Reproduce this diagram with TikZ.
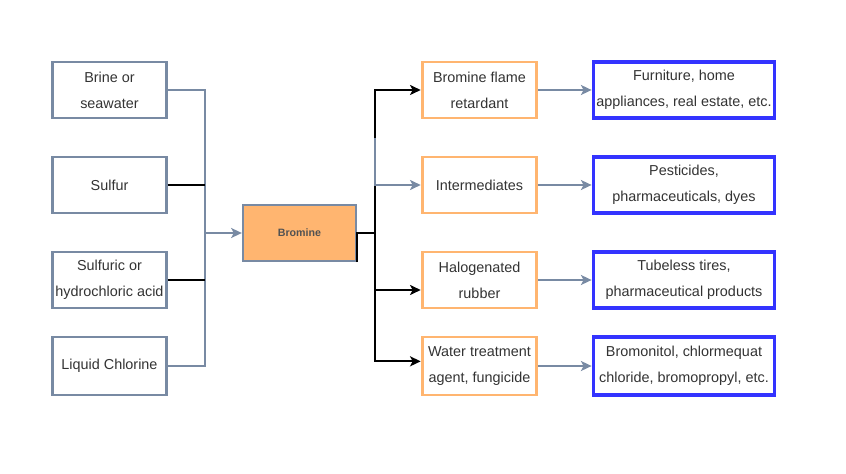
\documentclass[tikz,border=0pt]{standalone}
\usepackage{fontspec}
\setmainfont{Liberation Sans}
\usetikzlibrary{positioning,arrows.meta,calc}

\definecolor{slate}{HTML}{788AA3}
\definecolor{peach}{HTML}{FFB570}
\definecolor{royal}{HTML}{3333FF}
\definecolor{ink}{HTML}{333333}

\begin{document}
\begin{tikzpicture}[
    x=0.75pt, y=-0.75pt,
    font=\fontsize{10.8}{19.5}\selectfont, text=ink,
    src/.style={rectangle, draw=slate, line width=2.2pt, minimum width=85pt, minimum height=42pt, align=center, fill=white, inner sep=1pt},
    use/.style={rectangle, draw=peach, line width=2.2pt, minimum width=86pt, minimum height=42pt, align=center, fill=white, inner sep=1pt},
    app/.style={rectangle, draw=royal, line width=2.6pt, minimum width=136pt, minimum height=42pt, align=center, fill=white, inner sep=1pt},
    gline/.style={draw=slate, line width=1.5pt},
    garr/.style={-{Stealth[length=8pt,width=7.5pt,inset=2pt]}, draw=slate, line width=1.5pt},
    bline/.style={draw=black, line width=1.5pt},
    barr/.style={-{Stealth[length=8pt,width=7.5pt,inset=2pt]}, draw=black, line width=1.5pt}
]
\useasboundingbox (0,0) rectangle (846,474);

% Left: raw materials
\node[src] (brine) at (109.5, 90) {Brine or\\seawater};
\node[src] (sulfur) at (109.5, 185) {Sulfur};
\node[src] (acid) at (109.5, 280) {Sulfuric or\\hydrochloric acid};
\node[src, minimum height=43.5pt] (chlorine) at (109.5, 366) {Liquid Chlorine};

% Center: product
\node[rectangle, draw=slate, line width=1.5pt, fill=peach, minimum width=85pt, minimum height=42pt,
      font=\fontsize{8}{9}\selectfont\bfseries, text=ink!85] (bromine) at (299.5, 233) {Bromine};

% Middle: uses
\node[use] (flame) at (479.5, 90) {Bromine flame\\retardant};
\node[use] (inter) at (479.5, 185) {Intermediates};
\node[use] (rubber) at (479.5, 280) {Halogenated\\rubber};
\node[use, minimum height=43.5pt] (water) at (479.5, 366) {Water treatment\\agent, fungicide};

% Right: applications
\node[app] (furn) at (684, 90) {Furniture, home\\appliances, real estate, etc.};
\node[app] (pest) at (684, 185) {Pesticides,\\pharmaceuticals, dyes};
\node[app] (tire) at (684, 280) {Tubeless tires,\\pharmaceutical products};
\node[app, minimum height=43.5pt] (bromo) at (684, 366) {Bromonitol, chlormequat\\chloride, bromopropyl, etc.};

% Junction points
\coordinate (hub) at (205, 233);
\coordinate (split) at (375, 233);
\coordinate (tap) at (375, 138);

% Inputs into bromine
\draw[gline] (brine.east) -| (hub);
\draw[gline] (chlorine.east) -| (hub);
\draw[bline] (sulfur.east) -- (sulfur.east -| hub);
\draw[bline] (acid.east) -- (acid.east -| hub);
\draw[garr] (hub) -- (bromine.west);

% Bromine out to uses
\draw[bline] (bromine.south east) -- (bromine.east) -- (split);
\draw[barr] (split) |- (flame.west);
\draw[barr] (split) |- ([yshift=-7.5pt]rubber.west);
\draw[barr] (split) |- ([yshift=3.5pt]water.west);
\draw[garr] (tap) |- (inter.west);

% Uses to applications
\draw[garr] (flame) -- (furn);
\draw[garr] (inter) -- (pest);
\draw[garr] (rubber) -- (tire);
\draw[garr] (water) -- (bromo);

\end{tikzpicture}
\end{document}
